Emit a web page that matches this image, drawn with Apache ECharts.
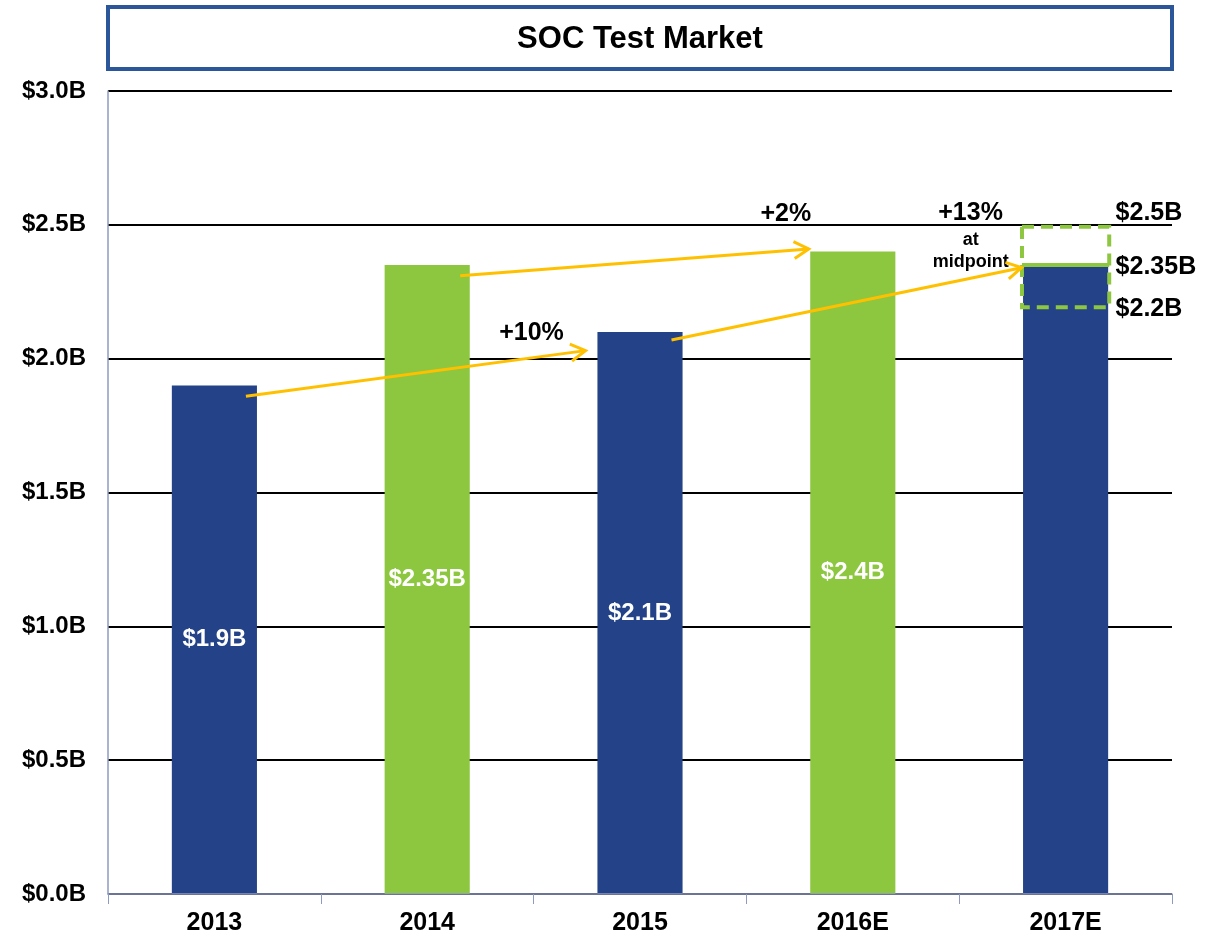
<!DOCTYPE html>
<html>
<head>
<meta charset="utf-8">
<title>SOC Test Market</title>
<script src="https://cdn.jsdelivr.net/npm/echarts@6/dist/echarts.min.js"></script>
<style>
  html, body { margin: 0; padding: 0; background: #fff; }
  #chart { width: 1205px; height: 939px; }
</style>
</head>
<body>
<div id="chart"></div>
<script>
// chart data
const years = ['2013', '2014', '2015', '2016E', '2017E'];
const marketValues = [1.9, 2.35, 2.1, 2.4, 2.35];
const barLabels = ['$1.9B', '$2.35B', '$2.1B', '$2.4B', ''];
const yTicks = [0, 0.5, 1.0, 1.5, 2.0, 2.5, 3.0];

// growth arrows: [category index, value]
const arrowFrom = [[0, 1.86], [1, 2.31], [2, 2.07]];
const arrowTo = [[2, 2.03], [3, 2.41], [4, 2.34]];
const growthLabels = ['+10%', '+2%', '+13%'];

// 2017E estimate range
const rangeLow = 2.2;
const rangeHigh = 2.5;
const rangeMid = 2.35;
const rangeLabels = ['$2.5B', '$2.35B', '$2.2B'];

const BLUE = '#234287';
const GREEN = '#8DC63F';
const YELLOW = '#FFC000';
const AXIS_GRAY = '#8E9AC2';
const FONT = '"Liberation Sans", Arial, sans-serif';

const chart = echarts.init(document.getElementById('chart'));

// 箭头
function renderArrow(params, api) {
  const i = params.dataIndex;
  const bw = api.size([1, 0])[0];
  const startShift = [0.148, 0.155, 0.148];
  const endShift = [-0.256, -0.207, -0.207];
  const labelOffset = [[-54, -18], [-23, -35], [-51, -55]];
  const p1 = api.coord([api.value(0), api.value(1)]);
  const p2 = api.coord([api.value(2), api.value(3)]);
  p1[0] += bw * startShift[i];
  p2[0] += bw * endShift[i];
  const ang = Math.atan2(p2[1] - p1[1], p2[0] - p1[0]);
  const len = 17, spread = Math.PI / 6;
  const h1 = [p2[0] - len * Math.cos(ang - spread), p2[1] - len * Math.sin(ang - spread)];
  const h2 = [p2[0] - len * Math.cos(ang + spread), p2[1] - len * Math.sin(ang + spread)];
  const stroke = { stroke: YELLOW, lineWidth: 3, fill: null };
  return {
    type: 'group',
    children: [
      { type: 'line', shape: { x1: p1[0], y1: p1[1], x2: p2[0], y2: p2[1] }, style: stroke },
      { type: 'polyline', shape: { points: [h1, p2, h2] }, style: stroke },
      {
        type: 'text',
        x: p2[0] + labelOffset[i][0],
        y: p2[1] + labelOffset[i][1],
        style: {
          text: growthLabels[i], fill: '#000', font: 'bold 25px ' + FONT,
          align: 'center', verticalAlign: 'middle'
        }
      }
    ]
  };
}

// 2017E 区间框
function renderRange(params, api) {
  const bw = api.size([1, 0])[0];
  const idx = api.value(0);
  const lo = api.coord([idx, api.value(1)]);
  const hi = api.coord([idx, api.value(2)]);
  const mid = api.coord([idx, api.value(3)]);
  const half = bw * 0.205;
  const cx = lo[0];
  const rx = cx + bw * 0.235;
  const lx = cx - bw * 0.446;
  const txt = (x, y, s, size, align) => ({
    type: 'text', x: x, y: y,
    style: { text: s, fill: '#000', font: 'bold ' + size + 'px ' + FONT, align: align, verticalAlign: 'middle' }
  });
  return {
    type: 'group',
    children: [
      {
        type: 'rect',
        shape: { x: cx - half, y: hi[1] + 2, width: half * 2, height: lo[1] - hi[1] },
        style: { fill: null, stroke: GREEN, lineWidth: 4, lineDash: [12, 7] }
      },
      {
        type: 'line',
        shape: { x1: cx - half, y1: mid[1], x2: cx + half, y2: mid[1] },
        style: { stroke: GREEN, lineWidth: 4 }
      },
      txt(rx, hi[1] - 12, rangeLabels[0], 25, 'left'),
      txt(rx, mid[1] + 2, rangeLabels[1], 25, 'left'),
      txt(rx, lo[1] + 4, rangeLabels[2], 25, 'left'),
      txt(lx, hi[1] + 15, 'at', 18, 'center'),
      txt(lx, hi[1] + 37, 'midpoint', 18, 'center')
    ]
  };
}

const option = {
  animation: false,
  textStyle: { fontFamily: FONT },
  graphic: [
    {
      type: 'rect',
      shape: { x: 108, y: 7, width: 1064, height: 62 },
      style: { fill: '#fff', stroke: '#2B579A', lineWidth: 4 }
    },
    {
      type: 'text',
      x: 640, y: 39,
      style: {
        text: 'SOC Test Market', fill: '#000', font: 'bold 31px ' + FONT,
        align: 'center', verticalAlign: 'middle'
      }
    }
  ],
  grid: { left: 108, right: 33, top: 91, bottom: 45 },
  xAxis: {
    type: 'category',
    data: years,
    z: 3,
    axisLine: { lineStyle: { color: AXIS_GRAY, width: 1.5 } },
    axisTick: { show: true, length: 10, lineStyle: { color: AXIS_GRAY } },
    axisLabel: { color: '#000', fontWeight: 'bold', fontSize: 25, margin: 17 }
  },
  yAxis: {
    type: 'value',
    min: 0,
    max: 3,
    interval: 0.5,
    axisLine: { show: true, lineStyle: { color: AXIS_GRAY, width: 1.5 } },
    axisTick: { show: false },
    splitLine: { lineStyle: { color: '#000', width: 2 } },
    axisLabel: {
      color: '#000', fontWeight: 'bold', fontSize: 24, margin: 22,
      formatter: v => yTicks.indexOf(v) >= 0 ? '$' + v.toFixed(1) + 'B' : ''
    }
  },
  series: [
    {
      type: 'bar',
      barWidth: '40%',
      data: marketValues.map((v, i) => ({
        value: v,
        itemStyle: { color: i % 2 === 0 ? BLUE : GREEN }
      })),
      label: {
        show: true,
        position: 'inside',
        color: '#fff',
        fontWeight: 'bold',
        fontSize: 24,
        formatter: p => barLabels[p.dataIndex]
      }
    },
    {
      type: 'custom',
      renderItem: renderRange,
      clip: false,
      z: 4,
      encode: { x: 0, y: 1 },
      data: [[4, rangeLow, rangeHigh, rangeMid]]
    },
    {
      type: 'custom',
      renderItem: renderArrow,
      clip: false,
      z: 5,
      encode: { x: 0, y: 1 },
      data: arrowFrom.map((f, i) => [f[0], f[1], arrowTo[i][0], arrowTo[i][1]])
    }
  ]
};

chart.setOption(option);
</script>
</body>
</html>
